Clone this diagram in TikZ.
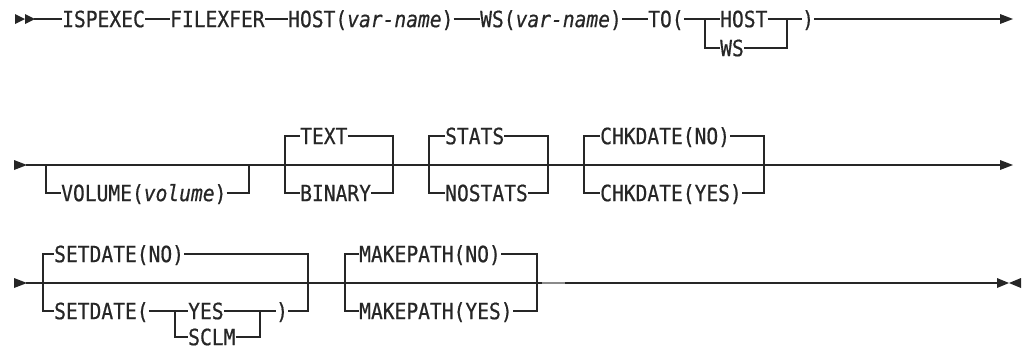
\documentclass[tikz,border=0pt]{standalone}
\usepackage{fontspec}
\newfontfamily\rrfont[FakeStretch=0.875,FakeBold=0.6]{DejaVu Sans Mono}
\definecolor{ink}{HTML}{262626}
\definecolor{stub}{HTML}{8A8A8A}
\begin{document}
\begin{tikzpicture}[x=1pt,y=-1pt,
  rr/.style={font=\rrfont\fontsize{22.4}{24}\selectfont, text=ink, inner sep=0pt, anchor=west, text height=16.3pt, text depth=0pt},
  rail/.style={draw=ink, line width=1.15pt},
  tip/.style={fill=ink, draw=none}]
\useasboundingbox (0,0) rectangle (1024,349);

% ---------------- Row 1 ----------------
\fill[tip] (15,14) -- (15,24) -- (25,19) -- cycle;
\fill[tip] (25,14) -- (25,24) -- (35,19) -- cycle;
\coordinate (r1s) at (34,19);
\node[rr] (isp) at (62,19) {ISPEXEC};
\node[rr] (fil) at (170,19) {FILEXFER};
\node[rr] (hst) at (288,19) {HOST(\textit{var-name})};
\node[rr] (wsv) at (480,19) {WS(\textit{var-name})};
\node[rr] (to) at (648,19) {TO(};
\node[rr] (thost) at (720,19) {HOST};
\node[rr] (tws) at (720,48) {WS};
\node[rr] (tcl) at (802,19) {)};
\coordinate (r1L) at (705,19);
\coordinate (r1Lb) at (705,48);
\coordinate (r1R) at (787,19);
\coordinate (r1Rb) at (787,48);
\coordinate (r1e) at (1001,19);
\fill[tip] (1000,14) -- (1000,24) -- (1013,19) -- cycle;
\draw[rail] (r1s) -- (isp.west);
\draw[rail] (isp.east) -- (fil.west);
\draw[rail] (fil.east) -- (hst.west);
\draw[rail] (hst.east) -- (wsv.west);
\draw[rail] (wsv.east) -- (to.west);
\draw[rail] (to.east) -- (thost.west);
\draw[rail] (r1L) -- (r1Lb) -- (tws.west);
\draw[rail] (thost.east) -- (r1R);
\draw[rail] (tws.east) -- (r1Rb) -- (r1R) -- (tcl.west);
\draw[rail] (tcl.east) -- (r1e);

% ---------------- Row 2 ----------------
\fill[tip] (14,160) -- (14,170) -- (27,165) -- cycle;
\coordinate (r2s) at (26,165);
\coordinate (r2e) at (1001,165);
\fill[tip] (1000,160) -- (1000,170) -- (1013,165) -- cycle;
\draw[rail] (r2s) -- (r2e);
% VOLUME (optional)
\node[rr] (vol) at (61,193) {VOLUME(\textit{volume})};
\coordinate (vL) at (46,165); \coordinate (vLb) at (46,193);
\coordinate (vR) at (249,165); \coordinate (vRb) at (249,193);
\draw[rail] (vL) -- (vLb) -- (vol.west);
\draw[rail] (vol.east) -- (vRb) -- (vR);
% TEXT / BINARY
\node[rr] (txt) at (300,136) {TEXT};
\node[rr] (bin) at (300,193) {BINARY};
\coordinate (tLt) at (285,136); \coordinate (tLb) at (285,193);
\coordinate (tRt) at (393,136); \coordinate (tRb) at (393,193);
\draw[rail] (txt.west) -- (tLt) -- (tLb) -- (bin.west);
\draw[rail] (txt.east) -- (tRt) -- (tRb) -- (bin.east);
% STATS / NOSTATS
\node[rr] (sta) at (445,136) {STATS};
\node[rr] (nos) at (445,193) {NOSTATS};
\coordinate (sLt) at (429,136); \coordinate (sLb) at (429,193);
\coordinate (sRt) at (548,136); \coordinate (sRb) at (548,193);
\draw[rail] (sta.west) -- (sLt) -- (sLb) -- (nos.west);
\draw[rail] (sta.east) -- (sRt) -- (sRb) -- (nos.east);
% CHKDATE
\node[rr] (chn) at (600,136) {CHKDATE(NO)};
\node[rr] (chy) at (600,193) {CHKDATE(YES)};
\coordinate (cLt) at (584,136); \coordinate (cLb) at (584,193);
\coordinate (cRt) at (764,136); \coordinate (cRb) at (764,193);
\draw[rail] (chn.west) -- (cLt) -- (cLb) -- (chy.west);
\draw[rail] (chn.east) -- (cRt) -- (cRb) -- (chy.east);

% ---------------- Row 3 ----------------
\fill[tip] (14,278) -- (14,288) -- (27,283) -- cycle;
\coordinate (r3s) at (26,283);
\coordinate (r3e) at (998,283);
\fill[tip] (997,278) -- (997,288) -- (1009,283) -- cycle;
\fill[tip] (1021,278) -- (1021,288) -- (1009,283) -- cycle;
\draw[rail] (r3s) -- (r3e);
% SETDATE
\node[rr] (sdn) at (54,254) {SETDATE(NO)};
\node[rr] (sdy) at (54,311) {SETDATE(};
\node[rr] (yes) at (188,311) {YES};
\node[rr] (sclm) at (188,337) {SCLM};
\node[rr] (sdc) at (276,311) {)};
\coordinate (dLt) at (43,254); \coordinate (dLb) at (43,311);
\coordinate (dRt) at (308,254); \coordinate (dRb) at (308,311);
\coordinate (nL) at (175,311); \coordinate (nLb) at (175,337);
\coordinate (nR) at (260,311); \coordinate (nRb) at (260,337);
\draw[rail] (sdn.west) -- (dLt) -- (dLb) -- (sdy.west);
\draw[rail] (sdn.east) -- (dRt) -- (dRb) -- (sdc.east);
\draw[rail] (sdy.east) -- (yes.west);
\draw[rail] (nL) -- (nLb) -- (sclm.west);
\draw[rail] (yes.east) -- (nR) -- (sdc.west);
\draw[rail] (sclm.east) -- (nRb) -- (nR);
% MAKEPATH
\node[rr] (mpn) at (359,254) {MAKEPATH(NO)};
\node[rr] (mpy) at (359,311) {MAKEPATH(YES)};
\coordinate (mLt) at (345,254); \coordinate (mLb) at (345,311);
\coordinate (mRt) at (537,254); \coordinate (mRb) at (537,311);
\draw[rail] (mpn.west) -- (mLt) -- (mLb) -- (mpy.west);
\draw[rail] (mpn.east) -- (mRt) -- (mRb) -- (mpy.east);
\coordinate (stA) at (542,283); \coordinate (stB) at (565,283);
\draw[draw=stub, line width=2pt] (stA) -- (stB);
\end{tikzpicture}
\end{document}
